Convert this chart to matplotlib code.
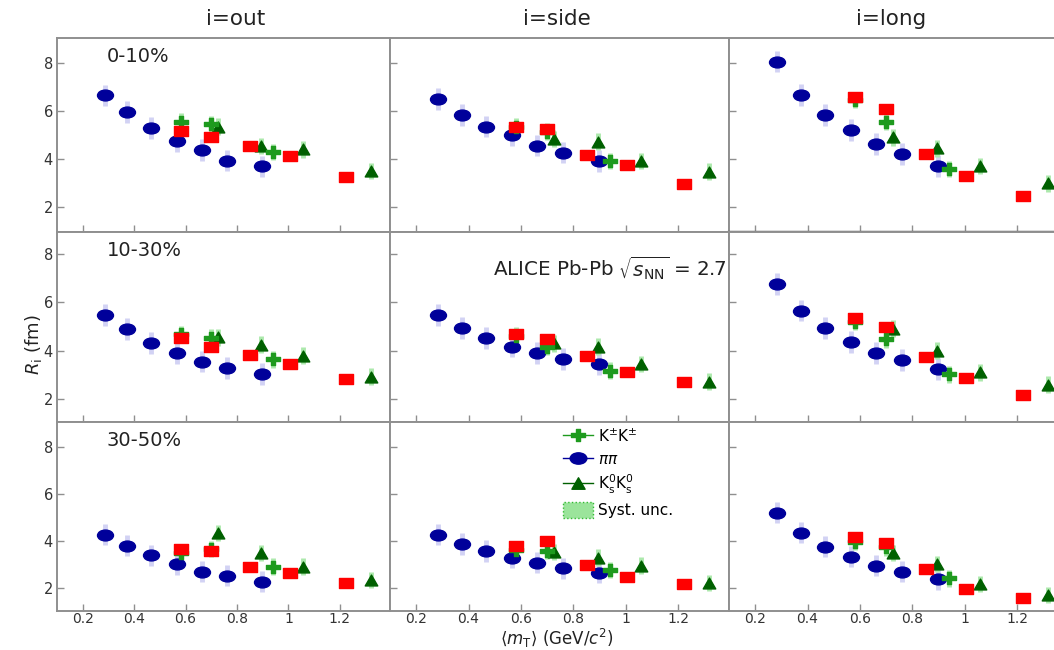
import matplotlib
matplotlib.use("Agg")
import matplotlib.pyplot as plt
from matplotlib.path import Path
from matplotlib.markers import MarkerStyle
from matplotlib.transforms import Affine2D
from matplotlib.lines import Line2D
from matplotlib.patches import Patch

plt.rcParams['font.family'] = ['DejaVu Sans']
plt.rcParams['mathtext.fontset'] = 'dejavusans'

# <mT> values (GeV/c^2)
pipi_mt = [0.285, 0.374, 0.467, 0.565, 0.662, 0.760, 0.898]
kch_mt = [0.581, 0.700, 0.940]
k0_mt = [0.725, 0.893, 1.057, 1.320]
red_mt = [0.582, 0.700, 0.852, 1.007, 1.223]

centralities = ['0-10%', '10-30%', '30-50%']
directions = ['out', 'side', 'long']

# radii (fm), rows = centrality classes
pipi_out = [[6.65, 5.96, 5.28, 4.75, 4.38, 3.93, 3.69],
            [5.48, 4.91, 4.31, 3.90, 3.55, 3.28, 3.04],
            [4.26, 3.79, 3.39, 3.01, 2.69, 2.52, 2.26]]
pipi_side = [[6.50, 5.83, 5.35, 4.99, 4.56, 4.27, 3.92],
             [5.48, 4.93, 4.54, 4.17, 3.90, 3.65, 3.45],
             [4.26, 3.87, 3.57, 3.29, 3.08, 2.84, 2.65]]
pipi_long = [[8.06, 6.67, 5.83, 5.21, 4.63, 4.21, 3.71],
             [6.75, 5.66, 4.93, 4.35, 3.92, 3.62, 3.24],
             [5.20, 4.35, 3.76, 3.33, 2.95, 2.69, 2.38]]

kch_out = [[5.56, 5.45, 4.29], [4.68, 4.54, 3.65], [3.48, 3.65, 2.91]]
kch_side = [[5.35, 5.14, 3.92], [4.62, 4.17, 3.17], [3.62, 3.57, 2.77]]
kch_long = [[6.46, 5.56, 3.58], [5.20, 4.48, 3.03], [3.97, 3.73, 2.41]]

k0_out = [[5.35, 4.54, 4.40, 3.50], [4.56, 4.24, 3.79, 2.93], [4.33, 3.48, 2.91, 2.34]]
k0_side = [[4.83, 4.72, 3.92, 3.47], [4.31, 4.17, 3.45, 2.72], [3.52, 3.29, 2.95, 2.20]]
k0_long = [[4.90, 4.44, 3.71, 2.99], [4.90, 4.00, 3.10, 2.59], [3.48, 3.02, 2.16, 1.70]]

red_out = [[5.17, 4.93, 4.54, 4.13, 3.26], [4.52, 4.17, 3.83, 3.45, 2.82], [3.66, 3.57, 2.91, 2.62, 2.20]]
red_side = [[5.33, 5.26, 4.17, 3.75, 2.95], [4.68, 4.48, 3.76, 3.10, 2.72], [3.79, 4.01, 2.98, 2.48, 2.17]]
red_long = [[6.60, 6.08, 4.21, 3.30, 2.46], [5.34, 5.00, 3.73, 2.86, 2.15], [4.16, 3.90, 2.81, 1.96, 1.59]]

# systematic uncertainties (fm)
pipi_sys = 0.45
kaon_sys = 0.35

pipi_all = {'out': pipi_out, 'side': pipi_side, 'long': pipi_long}
kch_all = {'out': kch_out, 'side': kch_side, 'long': kch_long}
k0_all = {'out': k0_out, 'side': k0_side, 'long': k0_long}
red_all = {'out': red_out, 'side': red_side, 'long': red_long}


def wide(sym, sx):
    # markers in the original look horizontally stretched
    m = MarkerStyle(sym)
    p = m.get_path().transformed(m.get_transform())
    return p.transformed(Affine2D().scale(sx, 1.0))


m_pi = Path.unit_circle().transformed(Affine2D().scale(1.47, 1.0))
m_sq = wide('s', 1.35)
m_tri = wide('^', 1.15)
m_plus = wide('P', 1.3)

NAVY = '#00009a'
KGREEN = '#1e9a1e'
TGREEN = '#006000'
RED = '#ff0000'
FRAME = '#8f8f8f'
TXT = '#222222'

W, H = 1054, 650
fig = plt.figure(figsize=(W / 100, H / 100), dpi=100)

col_px = [(57, 333), (390, 339), (729, 339)]
row_px = [(38, 232), (232, 422), (422, 611)]
row_ylim = [(0.96, 9.04), (1.05, 8.91), (1.02, 9.06)]
title_x = [236, 557, 891]

axes = {}
for r, (top, bot) in enumerate(row_px):
    for c, (x0, w) in enumerate(col_px):
        ax = fig.add_axes([x0 / W, (H - bot) / H, w / W, (bot - top) / H])
        axes[(r, c)] = ax
        d = directions[c]
        ax.errorbar(pipi_mt, pipi_all[d][r], yerr=pipi_sys, fmt='none',
                    ecolor='#d2d2f4', elinewidth=3.5, zorder=1)
        ax.errorbar(kch_mt, kch_all[d][r], yerr=kaon_sys, fmt='none',
                    ecolor='#ace9ac', elinewidth=3.5, zorder=1)
        ax.errorbar(k0_mt, k0_all[d][r], yerr=kaon_sys, fmt='none',
                    ecolor='#ace9ac', elinewidth=3.5, zorder=1)
        ax.plot(pipi_mt, pipi_all[d][r], ls='none', marker=m_pi, ms=11.5,
                color=NAVY, mec=NAVY, zorder=3)
        ax.plot(k0_mt, k0_all[d][r], ls='none', marker=m_tri, ms=9,
                color=TGREEN, mec=TGREEN, zorder=4)
        ax.plot(kch_mt, kch_all[d][r], ls='none', marker=m_plus, ms=10.5,
                color=KGREEN, mec=KGREEN, zorder=5)
        ax.plot(red_mt, red_all[d][r], ls='none', marker=m_sq, ms=9.5,
                color=RED, mec=RED, zorder=6)

        ax.set_xlim(0.1, 1.395)
        ax.set_ylim(*row_ylim[r])
        ax.set_xticks([0.2, 0.4, 0.6, 0.8, 1.0, 1.2])
        ax.set_yticks([2, 4, 6, 8])
        ax.tick_params(direction='in', length=5, width=1, color=FRAME,
                       labelsize=10.5, labelcolor='#333333', pad=3)
        ax.tick_params(axis='x', pad=1, labelsize=10)
        if r == 2:
            ax.set_xticklabels(['0.2', '0.4', '0.6', '0.8', '1', '1.2'])
        else:
            ax.set_xticklabels([])
        if c != 0:
            ax.set_yticklabels([])
        for sp in ax.spines.values():
            sp.set_color(FRAME)
            sp.set_linewidth(1.4)
        if r == 0:
            fig.text(title_x[c] / W, 1 - 19 / H, 'i=' + d, fontsize=15.5,
                     ha='center', va='center', color=TXT)
        if c == 0:
            ax.text(0.15, 0.955, centralities[r], transform=ax.transAxes,
                    fontsize=14, va='top', ha='left', color=TXT)

axes[(0, 2)].spines['bottom'].set_linewidth(2.5)
axes[(0, 2)].spines['bottom'].set_color('#666666')

axes[(1, 1)].text(0.305, 0.81, r'ALICE Pb-Pb $\sqrt{s_{\rm NN}}$ = 2.76 TeV',
                  transform=axes[(1, 1)].transAxes, fontsize=14.3,
                  va='center', ha='left', color=TXT, clip_on=True)

fig.text(33 / W, 1 - 345 / H, r'$R_{\rm i}$ (fm)', rotation=90,
         fontsize=13, ha='center', va='center', color=TXT)
fig.text(557 / W, 0.0, '\u27e8$m_{\\rm T}$\u27e9 (GeV/$c^2$)',
         fontsize=12, ha='center', va='bottom', color=TXT)

handles = [
    Line2D([], [], color=KGREEN, marker=m_plus, ms=10.5, lw=1),
    Line2D([], [], color=NAVY, marker=m_pi, ms=12, lw=1),
    Line2D([], [], color=TGREEN, marker=m_tri, ms=9.5, lw=1),
    Patch(facecolor='#9be49b', edgecolor='#33bb33', linestyle=':', lw=1),
]
labels = [r'K$^{\pm}$K$^{\pm}$', r'$\pi\pi$', r'K$^0_{\rm s}$K$^0_{\rm s}$', 'Syst. unc.']
axes[(2, 1)].legend(handles, labels, loc='upper left', bbox_to_anchor=(0.51, 0.97),
                    frameon=False, fontsize=11, handlelength=2.0, handleheight=1.2,
                    handletextpad=0.3, labelspacing=0.4, borderpad=0,
                    borderaxespad=0)

fig.savefig('out.png', dpi=100)
